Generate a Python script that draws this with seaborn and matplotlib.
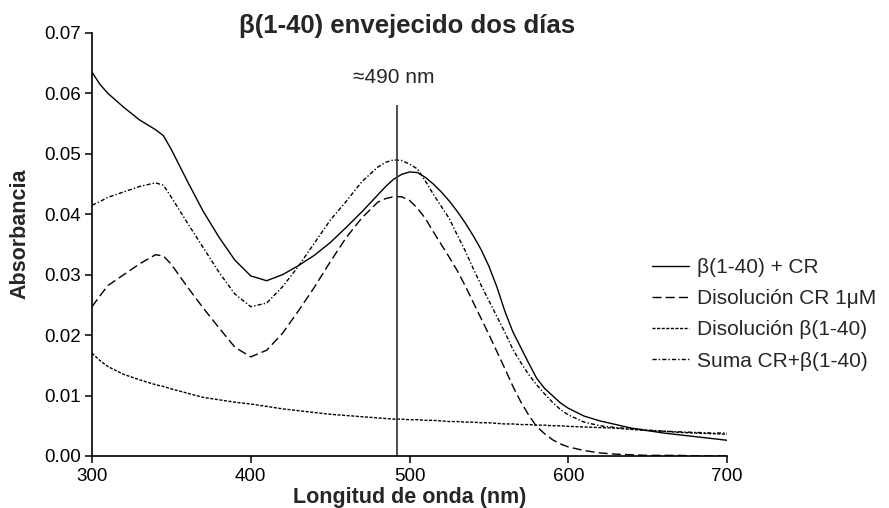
import seaborn as sns
import matplotlib.pyplot as plt
import pandas as pd

longitud = [300, 305, 310, 320, 330, 340, 345, 350, 360, 370, 380, 390, 400,
            410, 420, 430, 440, 450, 460, 470, 480,
            485, 490, 495, 500, 505, 510, 515, 520, 525, 530, 535, 540,
            545, 550, 555, 560, 565, 570, 575, 580, 585, 590, 595, 600,
            610, 620, 630, 640, 650, 660, 670, 680, 690, 700]

beta_cr = [0.0635, 0.0615, 0.0600, 0.0577, 0.0556, 0.0540, 0.0530, 0.0507,
           0.0455, 0.0405, 0.0362, 0.0324, 0.0298, 0.0290, 0.0300, 0.0315,
           0.0332, 0.0353, 0.0378, 0.0404, 0.0432,
           0.0446, 0.0458, 0.0466, 0.0470, 0.0469, 0.0461, 0.0450, 0.0437,
           0.0422, 0.0405, 0.0386, 0.0365, 0.0342, 0.0314, 0.0280, 0.0240,
           0.0206, 0.0180, 0.0154, 0.0129, 0.0112, 0.0100, 0.0088, 0.0079,
           0.0066, 0.0058, 0.0052, 0.0046, 0.0042, 0.0038, 0.0035, 0.0032,
           0.0029, 0.0026]

cr_1um = [0.0247, 0.0265, 0.0282, 0.0300, 0.0318, 0.0333, 0.0331, 0.0317,
          0.0280, 0.0245, 0.0212, 0.0180, 0.0164, 0.0175, 0.0203, 0.0240,
          0.0279, 0.0321, 0.0361, 0.0394, 0.0420,
          0.0426, 0.0429, 0.0429, 0.0423, 0.0410, 0.0393, 0.0371, 0.0350,
          0.0329, 0.0307, 0.0282, 0.0255, 0.0228, 0.0201, 0.0173, 0.0145,
          0.0116, 0.0090, 0.0068, 0.0049, 0.0037, 0.0027, 0.0020, 0.0015,
          0.0009, 0.0005, 0.0003, 0.0002, 0.0001, 0.0001, 0.0001, 0.0000,
          0.0000, 0.0000]

beta_sol = [0.0170, 0.0158, 0.0148, 0.0135, 0.0126, 0.0118, 0.0115, 0.0111,
            0.0104, 0.0097, 0.0093, 0.0089, 0.0086, 0.0082, 0.0078, 0.0075,
            0.0072, 0.0069, 0.0067, 0.0065, 0.0063,
            0.0062, 0.0061, 0.0061, 0.0060, 0.0060, 0.0059, 0.0059, 0.0058,
            0.0057, 0.0057, 0.0056, 0.0056, 0.0055, 0.0055, 0.0054, 0.0053,
            0.0053, 0.0052, 0.0052, 0.0051, 0.0051, 0.0050, 0.0050, 0.0049,
            0.0048, 0.0047, 0.0046, 0.0044, 0.0042, 0.0041, 0.0039, 0.0038,
            0.0037, 0.0036]

suma = [0.0415, 0.0421, 0.0428, 0.0437, 0.0446, 0.0452, 0.0448, 0.0428,
        0.0386, 0.0345, 0.0304, 0.0268, 0.0247, 0.0253, 0.0280, 0.0314,
        0.0352, 0.0390, 0.0421, 0.0454, 0.0478,
        0.0486, 0.0490, 0.0489, 0.0483, 0.0475, 0.0455, 0.0433, 0.0413,
        0.0393, 0.0366, 0.0340, 0.0311, 0.0283, 0.0257, 0.0231, 0.0205,
        0.0177, 0.0155, 0.0135, 0.0118, 0.0103, 0.0089, 0.0077, 0.0068,
        0.0056, 0.0050, 0.0047, 0.0045, 0.0043, 0.0041, 0.0040, 0.0039,
        0.0038, 0.0038]

nombres = ['β(1-40) + CR', 'Disolución CR 1μM', 'Disolución β(1-40)',
           'Suma CR+β(1-40)']
marca_nm = 492
marca_texto = '≈490 nm'

filas = []
for nombre, serie in zip(nombres, [beta_cr, cr_1um, beta_sol, suma]):
    for x, y in zip(longitud, serie):
        filas.append({'nm': x, 'abs': y, 'serie': nombre})
df = pd.DataFrame(filas)

sns.set_style('ticks')
plt.rcParams['font.family'] = ['Liberation Sans', 'DejaVu Sans']

fig = plt.figure(figsize=(8.89, 5.08), dpi=100)
ax = fig.add_axes([0.1035, 0.1024, 0.7143, 0.8327])

estilos = {nombres[0]: '', nombres[1]: (6.5, 3),
           nombres[2]: (2.2, 1.1), nombres[3]: (3, 1.5, 1, 1.5)}
sns.lineplot(data=df, x='nm', y='abs', style='serie', dashes=estilos,
             color='black', linewidth=1.0, estimator=None, sort=False, ax=ax)

# linea vertical del maximo
ax.vlines(marca_nm, 0, 0.058, color='#404040', linewidth=1.3)
ax.text(490, 0.0617, marca_texto, ha='center', va='baseline', fontsize=15)

ax.set_xlim(300, 700)
ax.set_ylim(0, 0.07)
ax.set_xticks([300, 400, 500, 600, 700])
ax.set_yticks([0.00, 0.01, 0.02, 0.03, 0.04, 0.05, 0.06, 0.07])
ax.yaxis.set_major_formatter(plt.FormatStrFormatter('%.2f'))
ax.tick_params(direction='out', length=5, width=1.1, labelsize=13.5,
               color='black', labelcolor='black')
ax.tick_params(axis='y', pad=3)
ax.tick_params(axis='x', pad=4)
for lado in ['left', 'bottom']:
    ax.spines[lado].set_color('black')
    ax.spines[lado].set_linewidth(1.2)
sns.despine(ax=ax)

ax.set_xlabel('Longitud de onda (nm)', fontsize=15.5, fontweight='bold')
ax.set_ylabel('Absorbancia', fontsize=15.5, fontweight='bold')
ax.xaxis.label.set_va('center')
ax.yaxis.label.set_va('center')
ax.xaxis.set_label_coords(0.5, -0.097)
ax.yaxis.set_label_coords(-0.113, 0.525)

fig.text(407.5 / 889, 0.935, 'β(1-40) envejecido dos días', ha='center',
         va='baseline', fontsize=18.5, fontweight='bold')

h, l = ax.get_legend_handles_labels()
ax.legend(h, l, loc='center left', bbox_to_anchor=(0.7334, 0.381),
          bbox_transform=fig.transFigure, frameon=False, fontsize=15,
          handlelength=1.8, handletextpad=0.35, labelspacing=0.58,
          borderpad=0, borderaxespad=0)

fig.savefig('out.png', dpi=100)
